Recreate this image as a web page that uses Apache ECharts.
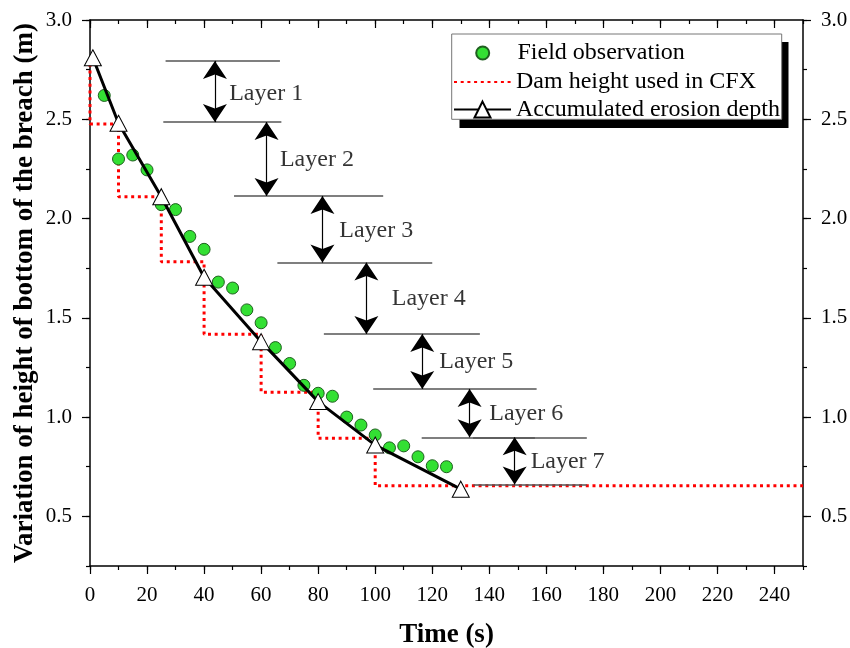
<!DOCTYPE html>
<html>
<head>
<meta charset="utf-8">
<script src="https://cdn.jsdelivr.net/npm/echarts@6/dist/echarts.min.js"></script>
<style>html,body{margin:0;padding:0;background:#fff}#c{width:850px;height:648px}</style>
</head>
<body>
<div id="c"></div>
<script>
// ---- data ----
const fieldTime = [5,10,15,20,25,30,35,40,45,50,55,60,65,70,75,80,85,90,95,100,105,110,115,120,125];
const fieldHeight = [2.62,2.30,2.32,2.245,2.07,2.045,1.91,1.845,1.68,1.65,1.54,1.475,1.35,1.27,1.16,1.12,1.105,1.0,0.96,0.91,0.845,0.855,0.80,0.755,0.75];

const damTime = [0,0,10,10,25,25,40,40,60,60,80,80,100,100,250];
const damHeight = [2.78,2.476,2.476,2.11,2.11,1.783,1.783,1.417,1.417,1.125,1.125,0.894,0.894,0.654,0.654];

const erosionTime = [1,10,25,40,60,80,100,130];
const erosionDepth = [2.81,2.48,2.11,1.704,1.38,1.078,0.859,0.637];

// layer annotation
const layerLevels = [2.794,2.486,2.114,1.778,1.419,1.142,0.898,0.661];
const arrowX = [43.8,61.9,81.5,96.9,116.5,133.1,148.9];
const lineLevel = [2.794,2.486,2.114,1.778,1.419,1.142,0.898,0.898,0.661];
const lineStart = [26.5,25.7,50.5,65.7,82.0,99.3,116.3,134.3,134.4];
const lineEnd = [66.6,67.1,102.8,120.0,136.7,156.6,156.0,174.2,174.2];
const layerNames = ['Layer 1','Layer 2','Layer 3','Layer 4','Layer 5','Layer 6','Layer 7'];
const labelX = [48.8,66.6,87.4,105.8,122.5,140.0,154.5];
const labelY = [2.631,2.295,1.939,1.598,1.279,1.019,0.775];

// ticks
const xMajorTicks = [0,20,40,60,80,100,120,140,160,180,200,220,240];
const yMajorTicks = [0.5,1.0,1.5,2.0,2.5,3.0];

const FONT = 'Liberation Serif';
const chart = echarts.init(document.getElementById('c'), null, {renderer:'canvas'});

function xAxisDef(pos, main, inside) {
  return {
    type:'value', position:pos, min:0, max:250, interval:10,
    axisLine:{show:main, onZero:false, lineStyle:{color:'#000', width:1.5}},
    axisTick: main ? {show:true, inside:inside, length:4, lineStyle:{color:'#000', width:1.2}}
                   : {show:true, inside:inside, length:8, customValues:xMajorTicks, lineStyle:{color:'#000', width:1.2}},
    axisLabel:{show: main && pos==='bottom', margin:19, fontFamily:FONT, fontSize:21, color:'#000',
      formatter: v => (Math.round(v) % 20 === 0 && v < 250 ? String(v) : '')},
    splitLine:{show:false}
  };
}
function yAxisDef(pos, main) {
  return {
    type:'value', position:pos, min:0.25, max:3.0, interval:0.25,
    axisLine:{show:main, onZero:false, lineStyle:{color:'#000', width:1.5}},
    axisTick: main ? {show:true, inside:false, length:4, lineStyle:{color:'#000', width:1.2}}
                   : {show:true, inside:false, length:8, customValues:yMajorTicks, lineStyle:{color:'#000', width:1.2}},
    axisLabel:{show: main, margin:18, fontFamily:FONT, fontSize:21, color:'#000',
      formatter: v => (Math.abs(v*2 - Math.round(v*2)) < 1e-6 ? v.toFixed(1) : '')},
    splitLine:{show:false}
  };
}

const xAxes = [xAxisDef('bottom', true, false), xAxisDef('bottom', false, false), xAxisDef('top', true, true), xAxisDef('top', false, true)];
xAxes[0].name = 'Time (s)';
xAxes[0].nameLocation = 'middle';
xAxes[0].nameGap = 55.5;
xAxes[0].nameTextStyle = {fontFamily:FONT, fontSize:27, fontWeight:'bold', color:'#000'};

const yAxes = [yAxisDef('left', true), yAxisDef('left', false), yAxisDef('right', true), yAxisDef('right', false)];
yAxes[0].name = 'Variation of height of bottom of the breach (m)';
yAxes[0].nameLocation = 'middle';
yAxes[0].nameGap = 51;
yAxes[0].nameMoveOverlap = false;
yAxes[0].nameTextStyle = {fontFamily:FONT, fontSize:27, fontWeight:'bold', color:'#000'};

const hLines = lineLevel.map((lv, i) => [{coord:[lineStart[i], lv]}, {coord:[lineEnd[i], lv]}]);
const arrows = arrowX.map((x, i) => [{coord:[x, layerLevels[i]]}, {coord:[x, layerLevels[i+1]]}]);

const option = {
  animation:false,
  backgroundColor:'#fff',
  grid:{left:90, right:47, top:20, bottom:82, containLabel:false, outerBoundsMode:'none'},
  xAxis:xAxes,
  yAxis:yAxes,
  graphic:[
    {type:'rect', z:10, shape:{x:459.5, y:42, width:329, height:86}, style:{fill:'#000'}},
    {type:'rect', z:11, shape:{x:451.7, y:34, width:330, height:85.3}, style:{fill:'#fff', stroke:'#777', lineWidth:1}}
  ],
  legend:[
    {data:['Field observation'], orient:'vertical', left:475.2, top:41, padding:0, itemGap:0,
     itemWidth:13, itemHeight:13, z:20, selectedMode:false,
     textStyle:{fontFamily:FONT, fontSize:24, lineHeight:24, color:'#000', padding:[0,0,0,23.3]}},
    {data:[{name:'Dam height used in CFX', itemStyle:{opacity:0}}, 'Accumulated erosion depth'],
     orient:'vertical', left:453, top:70, padding:0, itemGap:3.6,
     itemWidth:57, itemHeight:20, z:20, selectedMode:false,
     textStyle:{fontFamily:FONT, fontSize:24, lineHeight:24, color:'#000'}}
  ],
  series:[
    {
      name:'annotations', type:'scatter', xAxisIndex:0, yAxisIndex:0, silent:true, z:1,
      symbolSize:0,
      data: labelX.map((x, i) => [x, labelY[i], layerNames[i]]),
      label:{show:true, position:'right', distance:0, formatter: p => p.data[2],
        fontFamily:FONT, fontSize:24, color:'#000'},
      markLine:{
        silent:true, animation:false, symbol:'none',
        label:{show:false},
        lineStyle:{color:'#555', width:1.5, type:'solid'},
        emphasis:{disabled:true},
        data: hLines
      }
    },
    {
      name:'arrows', type:'scatter', xAxisIndex:0, yAxisIndex:0, silent:true, z:1,
      symbolSize:0, data:[],
      markLine:{
        silent:true, animation:false,
        symbol:['arrow','arrow'], symbolSize:18,
        label:{show:false},
        lineStyle:{color:'#000', width:1.2, type:'solid'},
        itemStyle:{color:'#000'},
        emphasis:{disabled:true},
        data: arrows
      }
    },
    {
      name:'Dam height used in CFX', type:'line', xAxisIndex:0, yAxisIndex:0, z:2,
      data: damTime.map((t, i) => [t, damHeight[i]]),
      symbol:'none', showSymbol:false,
      itemStyle:{color:'#ff0000'},
      lineStyle:{color:'#ff0000', width:3, type:[3,3.7], cap:'butt'}
    },
    {
      name:'Field observation', type:'scatter', xAxisIndex:0, yAxisIndex:0, z:3,
      data: fieldTime.map((t, i) => [t, fieldHeight[i]]),
      symbol:'circle', symbolSize:12,
      itemStyle:{color:'#33e033', borderColor:'#1f5f1f', borderWidth:1, opacity:1}
    },
    {
      name:'Accumulated erosion depth', type:'line', xAxisIndex:0, yAxisIndex:0, z:4,
      data: erosionTime.map((t, i) => [t, erosionDepth[i]]),
      symbol:'triangle', symbolSize:[17,16], showAllSymbol:true, clip:false,
      itemStyle:{color:'#fff', borderColor:'#000', borderWidth:1},
      lineStyle:{color:'#000', width:3}
    }
  ]
};
chart.setOption(option);
</script>
</body>
</html>
